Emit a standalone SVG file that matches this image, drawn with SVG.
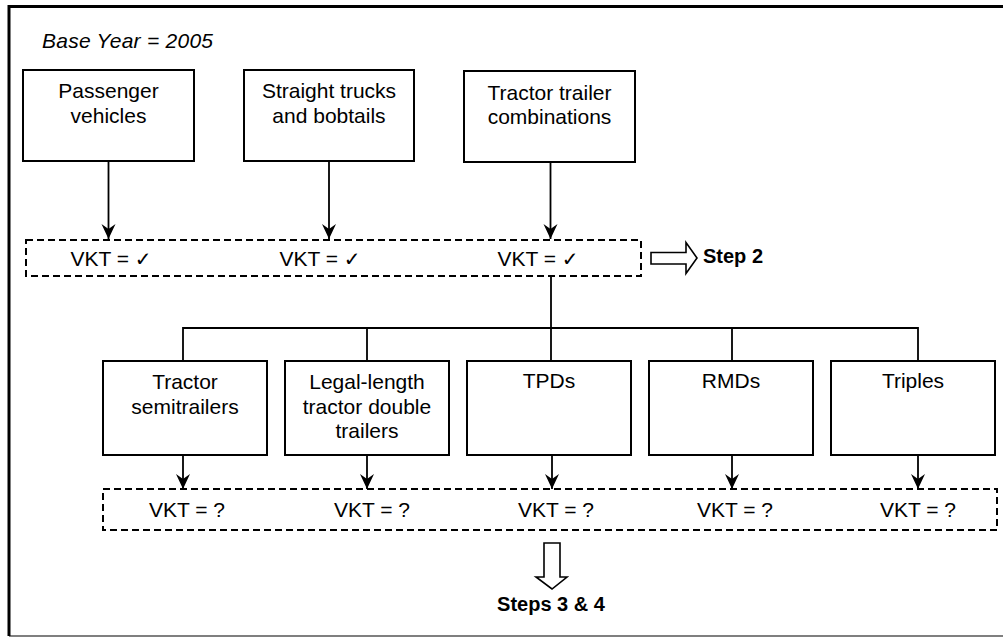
<svg xmlns="http://www.w3.org/2000/svg" width="1003" height="637" viewBox="0 0 1003 637">
<style>
.box{fill:#fff;stroke:#000;stroke-width:2}
.dash{fill:none;stroke:#000;stroke-width:2;stroke-dasharray:7 4}
.t{font-family:"Liberation Sans",Arial,sans-serif;font-size:21px;text-anchor:middle;fill:#000}
.bold{font-weight:bold;font-size:20px}
.it{font-style:italic;font-size:21px;text-anchor:start}
.ck{font-family:"DejaVu Sans",sans-serif;font-size:20px}
.conn{fill:none;stroke:#000;stroke-width:1.8}
.blk{fill:#fff;stroke:#000;stroke-width:1.6;stroke-linejoin:miter}
</style>
<defs>
<marker id="ah" markerUnits="userSpaceOnUse" viewBox="-16 -8 17 16" refX="0" refY="0" markerWidth="17" markerHeight="16" orient="auto">
<path d="M0,0 L-15,-7 L-10,0 L-15,7 Z" fill="#000"/>
</marker>
</defs>
<rect width="1003" height="637" fill="#fff"/>
<g id="frame">
<path d="M9,636 H1003" stroke="#555" stroke-width="1.5" fill="none"/>
<path d="M1003,6.5 H9 V636" stroke="#000" stroke-width="3" fill="none"/>
</g>
<text id="base-year" class="t it" x="42" y="48" textLength="171" lengthAdjust="spacing">Base Year = 2005</text>

<g id="connectors">
<line class="conn" x1="108.5" y1="161" x2="108.5" y2="239" marker-end="url(#ah)"/>
<line class="conn" x1="329" y1="161" x2="329" y2="239" marker-end="url(#ah)"/>
<line class="conn" x1="550.5" y1="162" x2="550.5" y2="239" marker-end="url(#ah)"/>
<path class="conn" d="M551,276 V361 M183,361 V328 H918 V361 M367,328 V361 M732,328 V361"/>
<line class="conn" x1="183" y1="455" x2="183" y2="489" marker-end="url(#ah)"/>
<line class="conn" x1="367" y1="455" x2="367" y2="489" marker-end="url(#ah)"/>
<line class="conn" x1="552" y1="455" x2="552" y2="489" marker-end="url(#ah)"/>
<line class="conn" x1="732" y1="455" x2="732" y2="489" marker-end="url(#ah)"/>
<line class="conn" x1="918" y1="455" x2="918" y2="489" marker-end="url(#ah)"/>
</g>

<g id="passenger">
<rect class="box" x="23" y="70" width="171" height="91"/>
<text class="t" x="108.5" y="98">Passenger</text>
<text class="t" x="108.5" y="123">vehicles</text>
</g>
<g id="straight-trucks">
<rect class="box" x="244" y="70" width="170" height="91"/>
<text class="t" x="329" y="98">Straight trucks</text>
<text class="t" x="329" y="123">and bobtails</text>
</g>
<g id="tractor-trailer">
<rect class="box" x="464" y="71" width="171" height="91"/>
<text class="t" x="549.5" y="100">Tractor trailer</text>
<text class="t" x="549.5" y="124">combinations</text>
</g>

<g id="vkt-known">
<rect class="dash" x="26" y="240" width="615" height="36"/>
<text class="t" x="111" y="266">VKT = <tspan class="ck">✓</tspan></text>
<text class="t" x="320" y="266">VKT = <tspan class="ck">✓</tspan></text>
<text class="t" x="538" y="266">VKT = <tspan class="ck">✓</tspan></text>
</g>

<g id="step2">
<polygon class="blk" points="651,252.5 686,252.5 686,242.5 697,258 686,273.5 686,264 651,264"/>
<text class="t bold" x="703" y="263" style="text-anchor:start">Step 2</text>
</g>

<g id="semitrailers">
<rect class="box" x="103" y="361" width="164" height="94"/>
<text class="t" x="185" y="389">Tractor</text>
<text class="t" x="185" y="414">semitrailers</text>
</g>
<g id="legal-length">
<rect class="box" x="285" y="361" width="164" height="94"/>
<text class="t" x="367" y="389">Legal-length</text>
<text class="t" x="367" y="414">tractor double</text>
<text class="t" x="367" y="438">trailers</text>
</g>
<g id="tpds">
<rect class="box" x="467" y="361" width="164" height="94"/>
<text class="t" x="549" y="388">TPDs</text>
</g>
<g id="rmds">
<rect class="box" x="649" y="361" width="164" height="94"/>
<text class="t" x="731" y="388">RMDs</text>
</g>
<g id="triples">
<rect class="box" x="831" y="361" width="164" height="94"/>
<text class="t" x="913" y="388">Triples</text>
</g>

<g id="vkt-unknown">
<rect class="dash" x="103" y="489" width="894" height="41"/>
<text class="t" x="187" y="517">VKT = ?</text>
<text class="t" x="372" y="517">VKT = ?</text>
<text class="t" x="556" y="517">VKT = ?</text>
<text class="t" x="735" y="517">VKT = ?</text>
<text class="t" x="918" y="517">VKT = ?</text>
</g>

<g id="steps34">
<polygon class="blk" points="544,543 560,543 560,577 567,577 552,589 536,577 544,577"/>
<text class="t bold" x="551" y="611">Steps 3 &amp; 4</text>
</g>
</svg>
